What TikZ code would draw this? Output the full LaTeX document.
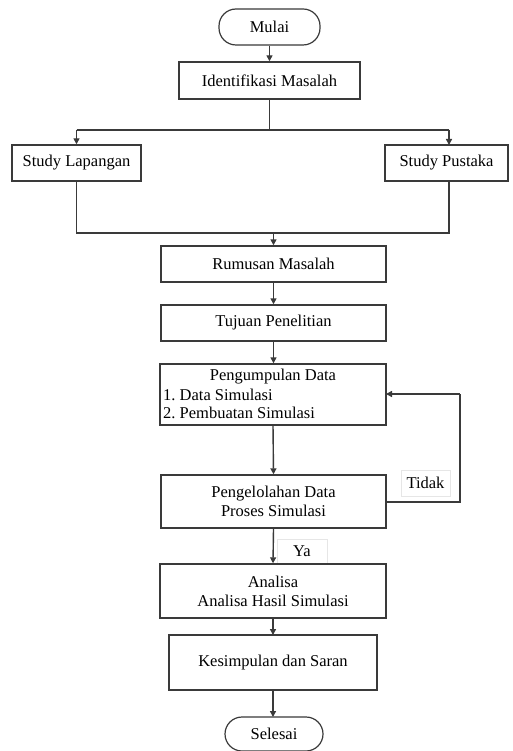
\documentclass[tikz,border=0pt]{standalone}
\usepackage{fontspec}
\setmainfont{Liberation Serif}
\usetikzlibrary{arrows.meta}
\definecolor{linec}{HTML}{3A3A3A}
\definecolor{labc}{HTML}{E6E6E6}
\tikzset{
  x=1pt, y=-1pt,
  every node/.style={font=\fontsize{16.5}{19}\selectfont, inner sep=0pt, align=center},
  boxx/.style={draw=linec, line width=1.4pt, fill=white},
  term/.style={draw=linec, line width=1.2pt, rounded corners=17pt, fill=white},
  conn/.style={draw=linec, line width=1.4pt},
  arr/.style={conn, -{Triangle[width=6pt,length=6pt]}},
  lab/.style={draw=labc, line width=0.8pt, fill=white}
}
\begin{document}
\begin{tikzpicture}
\useasboundingbox (0,0) rectangle (512,751);
\fill[white] (0,0) rectangle (512,751);
% nodes
\node[term, minimum width=101pt, minimum height=36pt] (mulai) at (269.5,27) {Mulai};
\node[boxx, minimum width=181pt, minimum height=37pt] (ident) at (269.5,80.5) {Identifikasi Masalah};
\node[boxx, minimum width=129pt, minimum height=36pt] (lap) at (76.5,163) {Study Lapangan};
\node[boxx, minimum width=123pt, minimum height=36pt] (pus) at (446.5,163) {Study Pustaka};
\node[boxx, minimum width=225pt, minimum height=36pt] (rum) at (273.5,264) {Rumusan Masalah};
\node[boxx, minimum width=225pt, minimum height=36pt] (tuj) at (273.5,323) {Tujuan Penelitian};
\node[boxx, minimum width=226pt, minimum height=61pt] (peng) at (273,394.5) {};
\node (pengA) at (273,377) {Pengumpulan Data};
\node[anchor=west] (pengB) at (163,395) {1.\ Data Simulasi};
\node[anchor=west] (pengC) at (163,413) {2.\ Pembuatan Simulasi};
\node[boxx, minimum width=225pt, minimum height=53pt] (pengel) at (273.5,501.5) {Pengelolahan Data\\Proses Simulasi};
\node[boxx, minimum width=226pt, minimum height=54pt] (ana) at (273,591) {Analisa\\Analisa Hasil Simulasi};
\node[boxx, minimum width=208pt, minimum height=55pt] (kes) at (273,662.5) {Kesimpulan dan Saran};
\node[term, minimum width=98pt, minimum height=34pt] (sel) at (274,734) {Selesai};
% connectors
\draw[arr] (mulai.south) -- (ident.north);
\coordinate (split) at (269.5,130);
\coordinate (splitL) at (76.5,130);
\coordinate (splitR) at (449,130);
\draw[conn] (ident.south) -- (split);
\draw[conn] (splitL) -- (splitR);
\draw[arr] (splitL) -- (lap.north);
\draw[arr] (splitR) -- (449,145);
\coordinate (joinL) at (76.5,233);
\coordinate (joinR) at (449,233);
\coordinate (join) at (273.5,233);
\draw[conn] (lap.south) -- (joinL) -- (joinR) -- (449,181);
\draw[arr] (join) -- (rum.north);
\draw[arr] (rum.south) -- (tuj.north);
\draw[arr] (tuj.south) -- (tuj.south |- peng.north);
\draw[arr] (273,425) -- (pengel.north);
\draw[arr] (pengel.south) -- (ana.north);
\draw[arr] (ana.south) -- (273,635);
\draw[arr] (kes.south) -- (273,717);
% feedback loop
\coordinate (fbA) at (460,502);
\coordinate (fbB) at (460,394);
\draw[conn] (pengel.east |- fbA) -- (fbA) -- (fbB);
\draw[arr] (fbB) -- (386,394);
% labels
\node[lab, minimum width=49pt, minimum height=26pt] (tidak) at (425.5,483) {Tidak};
\node[lab, minimum width=50pt, minimum height=24pt] (ya) at (302,551) {Ya};
\draw[conn] (ana.north west) -- (ana.north east);
\end{tikzpicture}
\end{document}
